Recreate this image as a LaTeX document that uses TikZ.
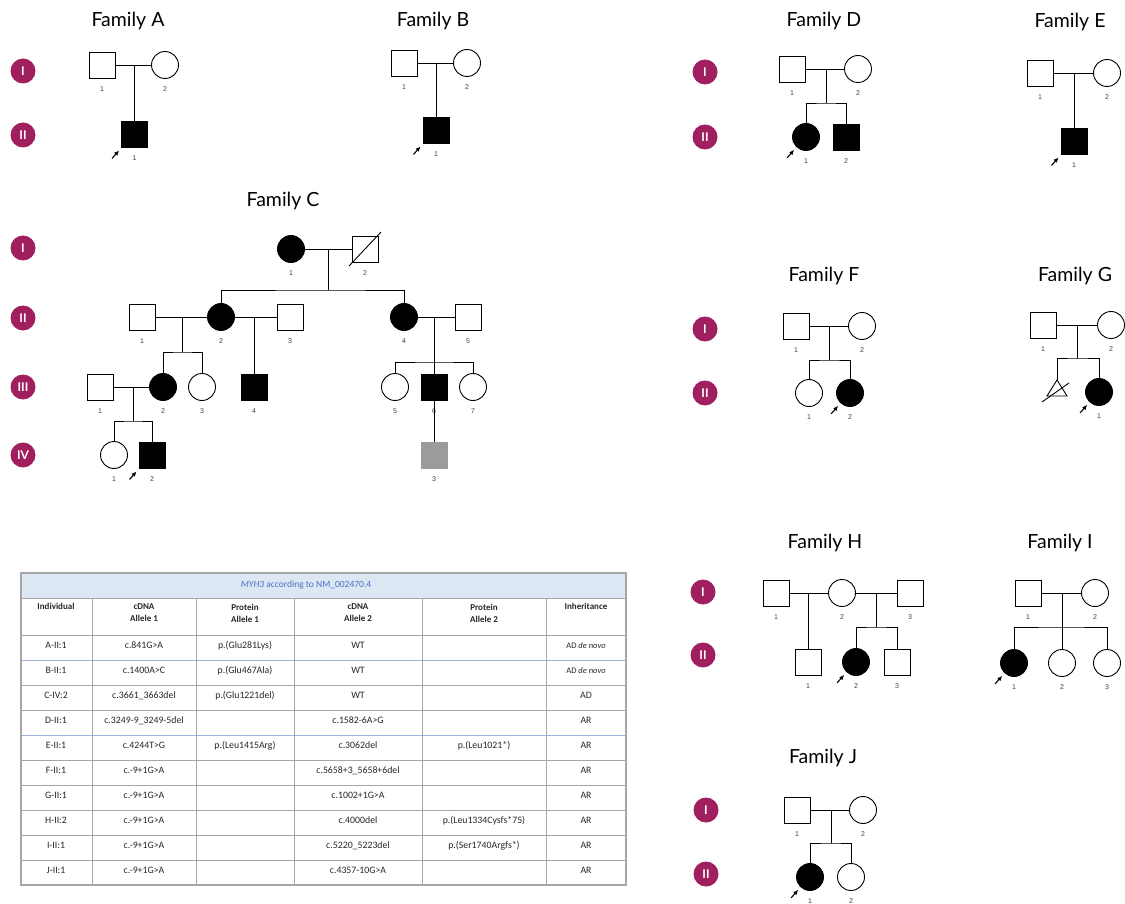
\documentclass[tikz,border=0pt]{standalone}
\usepackage{fontspec}
\setmainfont{Carlito}
\newfontfamily\titlefont{Lato}
\newfontfamily\numfont{Liberation Sans}
\usetikzlibrary{arrows.meta}
\definecolor{genc}{HTML}{A0205F}
\definecolor{carrierc}{HTML}{9B9B9B}
\definecolor{gridc}{HTML}{A6A6A6}
\definecolor{gridblue}{HTML}{9DB3DB}
\definecolor{bandc}{HTML}{DDE7F3}
\definecolor{headblue}{HTML}{4A72C4}

% individual: style, name, x, y, number printed beneath
\newcommand\indiv[5]{%
  \node[#1] (#2) at (#3,#4) {};
  \node[num] (#2n) at (#3,#4+24) {#5};}
% index-case arrow pointing at the lower left of a symbol
\newcommand\proband[1]{%
  \draw[probarrow] ([shift={(-9,11)}]#1.south west) -- ([shift={(-2,3)}]#1.south west);}

\begin{document}
\begin{tikzpicture}[x=1pt,y=-1pt,
  ind/.style={draw=black, line width=0.9pt, minimum size=26pt, inner sep=0pt, fill=white},
  male/.style={ind, rectangle},
  female/.style={ind, circle, minimum size=27pt},
  aff/.style={fill=black},
  carrier/.style={fill=carrierc, draw=carrierc},
  famtitle/.style={font=\titlefont\fontsize{19.5}{20}\selectfont, anchor=base, inner sep=0pt},
  gen/.style={circle, fill=genc, text=white, minimum size=25pt, inner sep=0pt,
    font=\titlefont\bfseries\fontsize{12}{12}\selectfont},
  num/.style={font=\numfont\fontsize{7}{7}\selectfont, text=black!75, inner sep=0pt},
  rel/.style={line width=0.9pt},
  probarrow/.style={-{Latex[length=5pt,width=4.5pt]}, line width=1.1pt},
  cell/.style={font=\fontsize{9.8}{11}\selectfont, text=black!85, inner sep=0pt},
  hcell/.style={font=\bfseries\fontsize{9}{12}\selectfont, text=black!85, inner sep=0pt, align=center, anchor=north},
]
\useasboundingbox (0,0) rectangle (1125,904);

% ---------------- generation markers ----------------
\node[gen] (gA1) at (23,71) {I};
\node[gen] (gA2) at (23,135) {II};
\node[gen] (gC1) at (23,248) {I};
\node[gen] (gC2) at (23,318) {II};
\node[gen] (gC3) at (23,387) {III};
\node[gen] (gC4) at (23,455) {IV};
\node[gen] (gD1) at (705,72) {I};
\node[gen] (gD2) at (705,137) {II};
\node[gen] (gF1) at (705,329) {I};
\node[gen] (gF2) at (705,393) {II};
\node[gen] (gH1) at (703,592) {I};
\node[gen] (gH2) at (703,655) {II};
\node[gen] (gJ1) at (706,810) {I};
\node[gen] (gJ2) at (706,874) {II};

% ---------------- Family A ----------------
\node[famtitle] (tA) at (128,27) {Family A};
\indiv{male}{A11}{102}{65}{1}
\indiv{female}{A12}{165}{65}{2}
\indiv{male,aff}{A21}{134.5}{134}{1}
\coordinate (Am) at (134.5,65);
\draw[rel] (A11) -- (A12);
\draw[rel] (Am) -- (A21);
\proband{A21}

% ---------------- Family B ----------------
\node[famtitle] (tB) at (433,27) {Family B};
\indiv{male}{B11}{404}{63}{1}
\indiv{female}{B12}{467}{63}{2}
\indiv{male,aff}{B21}{436}{130}{1}
\coordinate (Bm) at (436,63);
\draw[rel] (B11) -- (B12);
\draw[rel] (Bm) -- (B21);
\proband{B21}

% ---------------- Family C ----------------
\node[famtitle] (tC) at (283,207) {Family C};
% generation I
\indiv{female,aff}{C11}{291}{249}{1}
\indiv{male}{C12}{365}{249}{2}
\draw[rel] ([shift={(-16,17)}]C12.center) -- ([shift={(16,-17)}]C12.center);
\coordinate (Cm1) at (328,249);
\coordinate (Cs1) at (328,290);
\draw[rel] (C11) -- (C12);
\draw[rel] (Cm1) -- (Cs1);
% generation II
\indiv{male}{C21}{142}{317}{1}
\indiv{female,aff}{C22}{221}{317}{2}
\indiv{male}{C23}{290}{317}{3}
\indiv{female,aff}{C24}{404}{317}{4}
\indiv{male}{C25}{468}{317}{5}
\draw[rel] (C22) |- (Cs1) -| (C24);
\draw[rel] (C21) -- (C22);
\draw[rel] (C22) -- (C23);
\draw[rel] (C24) -- (C25);
\coordinate (Cm2) at (182,317);
\coordinate (Cs2) at (182,352);
\coordinate (Cm3) at (254,317);
\coordinate (Cm4) at (434,317);
\coordinate (Cs4) at (434,362);
% generation III
\indiv{male}{C31}{100}{387}{1}
\indiv{female,aff}{C32}{163}{387}{2}
\indiv{female}{C33}{202}{387}{3}
\indiv{male,aff}{C34}{254}{387}{4}
\indiv{female}{C35}{395}{387}{5}
\indiv{male,aff}{C36}{434}{387}{6}
\indiv{female}{C37}{473}{387}{7}
\draw[rel] (Cm2) -- (Cs2);
\draw[rel] (C32) |- (Cs2) -| (C33);
\draw[rel] (Cm3) -- (C34);
\draw[rel] (Cm4) -- (C36);
\draw[rel] (C35) |- (Cs4) -| (C37);
\draw[rel] (C31) -- (C32);
\coordinate (Cm5) at (133,387);
\coordinate (Cs5) at (133,421);
% generation IV
\indiv{female}{C41}{114}{455}{1}
\indiv{male,aff}{C42}{152}{455}{2}
\indiv{male,carrier}{C43}{434}{455}{3}
\draw[rel] (Cm5) -- (Cs5);
\draw[rel] (C41) |- (Cs5) -| (C42);
\draw[rel] (C36) -- (C43);
\proband{C42}

% ---------------- Family D ----------------
\node[famtitle] (tD) at (824,27) {Family D};
\indiv{male}{D11}{792}{69}{1}
\indiv{female}{D12}{858}{69}{2}
\indiv{female,aff}{D21}{806}{137}{1}
\indiv{male,aff}{D22}{846}{137}{2}
\coordinate (Dm) at (826,69);
\coordinate (Ds) at (826,103);
\draw[rel] (D11) -- (D12);
\draw[rel] (Dm) -- (Ds);
\draw[rel] (D21) |- (Ds) -| (D22);
\proband{D21}

% ---------------- Family E ----------------
\node[famtitle] (tE) at (1070,28) {Family E};
\indiv{male}{E11}{1040}{73}{1}
\indiv{female}{E12}{1107}{73}{2}
\indiv{male,aff}{E21}{1074}{141}{1}
\coordinate (Em) at (1074,73);
\draw[rel] (E11) -- (E12);
\draw[rel] (Em) -- (E21);
\proband{E21}

% ---------------- Family F ----------------
\node[famtitle] (tF) at (824,282) {Family F};
\indiv{male}{F11}{796}{326}{1}
\indiv{female}{F12}{862}{326}{2}
\indiv{female}{F21}{809}{393}{1}
\indiv{female,aff}{F22}{850}{393}{2}
\coordinate (Fm) at (829,326);
\coordinate (Fs) at (829,360);
\draw[rel] (F11) -- (F12);
\draw[rel] (Fm) -- (Fs);
\draw[rel] (F21) |- (Fs) -| (F22);
\proband{F22}

% ---------------- Family G ----------------
\node[famtitle] (tG) at (1075,282) {Family G};
\indiv{male}{G11}{1043}{325}{1}
\indiv{female}{G12}{1111}{325}{2}
\indiv{female,aff}{G22}{1099}{392}{1}
\coordinate (Gm) at (1077,325);
\coordinate (Gs) at (1077,358);
\coordinate (G21) at (1057,380);
\draw[rel] (G11) -- (G12);
\draw[rel] (Gm) -- (Gs);
\draw[rel] (G21) |- (Gs) -| (G22);
% miscarriage: triangle struck through
\draw[rel, line join=miter] (G21) -- (1047,396) -- (1067,396) -- cycle;
\draw[rel] (1042,402) -- (1069,383);
\proband{G22}

% ---------------- Family H ----------------
\node[famtitle] (tH) at (825,548) {Family H};
\indiv{male}{H11}{776}{593}{1}
\indiv{female}{H12}{842}{593}{2}
\indiv{male}{H13}{910}{593}{3}
\indiv{male}{H21}{808}{662}{1}
\indiv{female,aff}{H22}{856}{662}{2}
\indiv{male}{H23}{897}{662}{3}
\coordinate (Hm1) at (808,593);
\coordinate (Hm2) at (876,593);
\coordinate (Hs2) at (876,627);
\draw[rel] (H11) -- (H12);
\draw[rel] (H12) -- (H13);
\draw[rel] (Hm1) -- (H21);
\draw[rel] (Hm2) -- (Hs2);
\draw[rel] (H22) |- (Hs2) -| (H23);
\proband{H22}

% ---------------- Family I ----------------
\node[famtitle] (tI) at (1060,548) {Family I};
\indiv{male}{I11}{1028}{593}{1}
\indiv{female}{I12}{1095}{593}{2}
\indiv{female,aff}{I21}{1014}{663}{1}
\indiv{female}{I22}{1062}{663}{2}
\indiv{female}{I23}{1107}{663}{3}
\coordinate (Im) at (1062,593);
\coordinate (Is) at (1062,627);
\draw[rel] (I11) -- (I12);
\draw[rel] (Im) -- (I22);
\draw[rel] (I21) |- (Is) -| (I23);
\proband{I21}

% ---------------- Family J ----------------
\node[famtitle] (tJ) at (823,763) {Family J};
\indiv{male}{J11}{797}{810}{1}
\indiv{female}{J12}{863}{810}{2}
\indiv{female,aff}{J21}{810}{877}{1}
\indiv{female}{J22}{851}{877}{2}
\coordinate (Jm) at (831,810);
\coordinate (Js) at (831,843);
\draw[rel] (J11) -- (J12);
\draw[rel] (Jm) -- (Js);
\draw[rel] (J21) |- (Js) -| (J22);
\proband{J21}

% ---------------- variant table ----------------
\fill[bandc] (21,573) rectangle (626,598);
\foreach \k in {0,2,3,5,6,7,8,9}
  \draw[gridc, line width=0.9pt] (21,635+25*\k) -- (626,635+25*\k);
\foreach \k in {1,4}
  \draw[gridblue, line width=0.9pt] (21,635+25*\k) -- (626,635+25*\k);
\draw[gridc, line width=0.9pt] (21,598) -- (626,598);
\foreach \xx in {92,196,294,422,546}
  \draw[gridc, line width=0.9pt] (\xx,598) -- (\xx,885);
\draw[gridc, line width=1.2pt] (21,573) rectangle (626,885);

\node[font=\fontsize{9.5}{11}\selectfont, text=headblue, inner sep=0pt] (tabtitle) at (306,585)
  {\textit{MYH3} according to NM\_002470.4};

\node[hcell] (h1) at (56,603) {Individual};
\node[hcell] (h2) at (144,603) {cDNA\\Allele 1};
\node[hcell] (h3) at (245,604) {Protein\\Allele 1};
\node[hcell] (h4) at (358,603) {cDNA\\Allele 2};
\node[hcell] (h5) at (484,604) {Protein\\Allele 2};
\node[hcell] (h6) at (586,603) {Inheritance};

\foreach \ind/\ca/\pa/\cb/\pb/\inh [count=\r] in {
  A-II:1/c.841G>A/p.(Glu281Lys)/WT/{}/{\fontsize{8.5}{9}\selectfont\raisebox{-2pt}{AD \textit{de novo}}},
  B-II:1/c.1400A>C/p.(Glu467Ala)/WT/{}/{\fontsize{8.5}{9}\selectfont\raisebox{-2pt}{AD \textit{de novo}}},
  C-IV:2/c.3661\_3663del/p.(Glu1221del)/WT/{}/AD,
  D-II:1/c.3249-9\_3249-5del/{}/c.1582-6A>G/{}/AR,
  E-II:1/c.4244T>G/p.(Leu1415Arg)/c.3062del/p.(Leu1021*)/AR,
  F-II:1/c.-9+1G>A/{}/c.5658+3\_5658+6del/{}/AR,
  G-II:1/c.-9+1G>A/{}/c.1002+1G>A/{}/AR,
  H-II:2/c.-9+1G>A/{}/c.4000del/p.(Leu1334Cysfs*75)/AR,
  I-II:1/c.-9+1G>A/{}/c.5220\_5223del/p.(Ser1740Argfs*)/AR,
  J-II:1/c.-9+1G>A/{}/c.4357-10G>A/{}/AR}
{
  \node[cell] (r\r c1) at (56,620.5+25*\r) {\ind};
  \node[cell] (r\r c2) at (144,620.5+25*\r) {\ca};
  \node[cell] (r\r c3) at (245,620.5+25*\r) {\pa};
  \node[cell] (r\r c4) at (358,620.5+25*\r) {\cb};
  \node[cell] (r\r c5) at (484,620.5+25*\r) {\pb};
  \node[cell] (r\r c6) at (586,620.5+25*\r) {\inh};
}
\end{tikzpicture}
\end{document}
